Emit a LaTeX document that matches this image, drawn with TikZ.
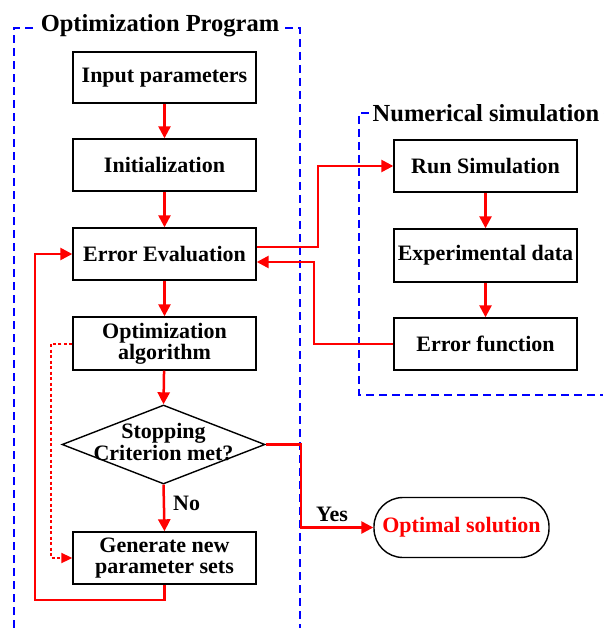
\documentclass[tikz,border=0pt]{standalone}
\usepackage{fontspec}
\setmainfont{Liberation Serif}
\usetikzlibrary{arrows.meta,shapes.geometric}
\begin{document}
\begin{tikzpicture}[x=1pt,y=-1pt,
  box/.style={draw=black,line width=1.4pt,minimum width=183pt,minimum height=52pt,inner sep=0pt,align=center,font=\bfseries\fontsize{22}{21}\selectfont},
  txt/.style={inner sep=0pt,align=center,font=\bfseries\fontsize{22}{20}\selectfont},
  ttl/.style={fill=white,inner xsep=4pt,inner ysep=1pt,font=\bfseries\fontsize{24.5}{26}\selectfont},
  arr/.style={draw=red,line width=2.5pt,-{Triangle[length=12pt,width=12pt]}},
  dotarr/.style={draw=red,line width=2pt,dash pattern=on 3pt off 2.5pt,-{Triangle[length=11pt,width=10pt]}},
  grp/.style={draw=blue,line width=2.5pt,dash pattern=on 8pt off 5pt}]
\useasboundingbox (0,0) rectangle (603,628);
% group frames
\draw[grp] (14,628) -- (14,28) -- (300,28) -- (300,628);
\draw[grp] (603,113) -- (359,113) -- (359,395) -- (603,395);
\node[ttl,anchor=base] (t1) at (160,32) {Optimization Program};
\node[ttl,anchor=base] (t2) at (486,122) {Numerical simulation};
% nodes
\node[box,minimum height=51pt] (in) at (164.5,77.5) {Input parameters};
\node[box] (init) at (164.5,165) {Initialization};
\node[box] (eval) at (164.5,254) {Error Evaluation};
\node[box,minimum height=53pt] (opt) at (164.5,343.5) {Optimization\\algorithm};
\node[draw=black,line width=1.4pt,shape=diamond,minimum width=203pt,minimum height=79pt,inner sep=0pt] (dia) at (163.5,444.5) {};
\node[txt] (diat) at (163.5,442) {Stopping\\Criterion met?};
\node[box] (gen) at (164.5,558) {Generate new\\parameter sets};
\node[box] (run) at (485.5,166) {Run Simulation};
\node[box,minimum height=53pt] (exp) at (485.5,255.5) {Experimental data};
\node[box] (err) at (485.5,344) {Error function};
\node[draw=black,line width=1.4pt,rounded corners=29pt,minimum width=175pt,minimum height=60pt,inner sep=0pt,text=red,font=\bfseries\fontsize{22}{21}\selectfont] (sol) at (461.5,527.5) {\raisebox{-1pt}{Optimal solution}};
% bend coordinates
\coordinate (lp) at (35,600);
\coordinate (dt) at (51,558);
\coordinate (b1) at (318,166);
\coordinate (b2) at (314,262);
\coordinate (b3) at (301,527.5);
% connectors
\draw[arr] (in) -- (init);
\draw[arr] (init) -- (eval);
\draw[arr] (eval) -- (opt);
\draw[arr] (opt) -- (dia.north);
\draw[arr] (dia.south) -- node[txt,right=8pt,pos=0.4] (no) {No} (gen.north);
\draw[arr] (gen.south) |- (lp) |- (eval.west);
\draw[dotarr] (opt.west) -| (dt) -- (gen.west);
\draw[arr] ([yshift=7pt]eval.east) -| (b1) -- (run.west);
\draw[arr] (run) -- (exp);
\draw[arr] (exp) -- (err);
\draw[arr] (err.west) -| (b2) -- ([yshift=-8pt]eval.east);
\draw[arr] (dia.east) -| (b3) -- (sol.west);
\node[txt] (yes) at (332,514) {Yes};
\end{tikzpicture}
\end{document}
